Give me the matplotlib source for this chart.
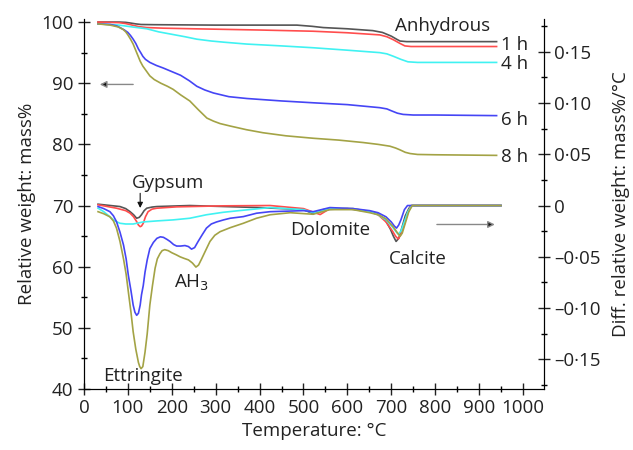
import matplotlib
matplotlib.use("Agg")
import matplotlib.pyplot as plt
from matplotlib.ticker import MultipleLocator, FixedLocator

plt.rcParams['font.family'] = ['Open Sans', 'DejaVu Sans']

# ---------------- data ----------------
# TG curves (left axis, mass %)
tg_anh_T = [32, 80, 95, 105, 118, 130, 160, 200, 300, 400, 485, 520, 545, 600, 658, 680, 700, 712, 720, 735, 760, 850, 940]
tg_anh_v = [100.0, 100.0, 99.95, 99.85, 99.7, 99.6, 99.57, 99.55, 99.5, 99.5, 99.5, 99.3, 99.1, 98.9, 98.6, 98.3, 97.7, 97.2, 96.9, 96.8, 96.8, 96.8, 96.8]
tg_1h_T = [32, 80, 95, 110, 125, 143, 180, 250, 400, 522, 600, 674, 690, 705, 720, 731, 745, 800, 940]
tg_1h_v = [100.0, 99.9, 99.75, 99.5, 99.25, 99.1, 99.0, 98.9, 98.7, 98.5, 98.25, 97.9, 97.6, 97.1, 96.5, 96.1, 96.0, 96.0, 96.0]
tg_4h_T = [32, 60, 80, 110, 143, 170, 200, 230, 257, 290, 320, 371, 450, 522, 600, 674, 690, 705, 722, 738, 760, 800, 940]
tg_4h_v = [99.7, 99.6, 99.5, 99.2, 98.9, 98.4, 98.0, 97.6, 97.2, 96.9, 96.7, 96.4, 96.1, 95.8, 95.4, 95.0, 94.8, 94.4, 93.9, 93.5, 93.4, 93.4, 93.4]
tg_6h_T = [32, 60, 75, 82, 92, 100, 106, 112, 118, 124, 130, 134, 140, 150, 165, 180, 200, 220, 240, 257, 275, 295, 330, 371, 450, 522, 600, 674, 690, 700, 714, 727, 750, 800, 940]
tg_6h_v = [99.7, 99.6, 99.35, 99.1, 98.7, 98.3, 97.8, 97.2, 96.5, 95.6, 94.9, 94.4, 93.9, 93.4, 92.9, 92.5, 91.9, 91.3, 90.4, 89.5, 88.9, 88.4, 87.8, 87.5, 87.1, 86.8, 86.5, 86.0, 85.8, 85.5, 85.1, 84.9, 84.8, 84.8, 84.7]
tg_8h_T = [32, 60, 78, 89, 95, 100, 106, 112, 116, 120, 124, 128, 134, 140, 150, 160, 175, 190, 203, 220, 241, 260, 280, 295, 310, 333, 370, 408, 460, 522, 580, 636, 670, 697, 710, 720, 732, 743, 760, 800, 940]
tg_8h_v = [99.7, 99.5, 99.2, 98.8, 98.4, 97.9, 97.2, 96.4, 95.7, 95.0, 94.3, 93.6, 92.8, 92.2, 91.2, 90.6, 90.0, 89.5, 89.0, 88.1, 87.1, 85.7, 84.3, 83.8, 83.4, 83.0, 82.4, 81.9, 81.4, 81.0, 80.7, 80.3, 80.0, 79.7, 79.4, 79.1, 78.7, 78.5, 78.35, 78.3, 78.2]

# DTG curves (right axis, mass %/°C)
dtg_anh_T = [32, 82, 95, 105, 113, 120, 126, 131, 137, 143, 155, 166, 241, 400, 500, 522, 545, 600, 650, 668, 685, 698, 705, 711, 717, 722, 732, 740, 745, 800, 900, 950]
dtg_anh_v = [0.0013, -0.001, -0.003, -0.006, -0.009, -0.0124, -0.0115, -0.009, -0.005, -0.0026, -0.0015, -0.001, 0.0, -0.002, -0.004, -0.008, -0.004, -0.003, -0.006, -0.008, -0.013, -0.023, -0.030, -0.035, -0.032, -0.025, -0.010, -0.003, 0.0, 0.0, 0.0, 0.0]
dtg_1h_T = [32, 74, 95, 105, 113, 120, 124, 128, 131, 135, 140, 146, 155, 166, 211, 317, 424, 500, 538, 560, 613, 651, 670, 688, 703, 710, 716, 721, 727, 737, 743, 747, 800, 950]
dtg_1h_v = [0.0007, -0.0026, -0.005, -0.0075, -0.011, -0.0157, -0.019, -0.0206, -0.0200, -0.0173, -0.011, -0.006, -0.0035, -0.0026, -0.0013, -0.0003, 0.0, -0.003, -0.0088, -0.003, -0.003, -0.006, -0.009, -0.016, -0.025, -0.030, -0.0326, -0.029, -0.022, -0.008, -0.002, 0.0, 0.0, 0.0]
dtg_4h_T = [32, 45, 59, 70, 82, 95, 112, 135, 166, 203, 241, 279, 317, 355, 424, 500, 522, 560, 613, 651, 670, 688, 703, 710, 716, 722, 728, 738, 747, 800, 950]
dtg_4h_v = [-0.0026, -0.006, -0.011, -0.015, -0.0173, -0.018, -0.018, -0.016, -0.015, -0.014, -0.0124, -0.009, -0.0066, -0.0049, -0.002, -0.004, -0.007, -0.003, -0.003, -0.006, -0.009, -0.014, -0.021, -0.025, -0.028, -0.025, -0.018, -0.006, 0.0, 0.0, 0.0]
dtg_6h_T = [32, 45, 59, 67, 74, 82, 90, 96, 101, 107, 112, 116, 120, 124, 128, 131, 135, 139, 144, 150, 158, 166, 174, 181, 189, 196, 204, 211, 220, 230, 238, 245, 252, 260, 270, 279, 290, 302, 318, 333, 363, 393, 424, 500, 522, 560, 613, 651, 670, 688, 700, 707, 712, 717, 722, 730, 737, 800, 950]
dtg_6h_v = [-0.001, -0.003, -0.006, -0.010, -0.0157, -0.026, -0.0385, -0.052, -0.068, -0.083, -0.097, -0.104, -0.107, -0.105, -0.097, -0.087, -0.078, -0.065, -0.053, -0.042, -0.036, -0.032, -0.0305, -0.031, -0.033, -0.035, -0.038, -0.0395, -0.0395, -0.039, -0.040, -0.0425, -0.041, -0.035, -0.028, -0.022, -0.018, -0.016, -0.014, -0.0124, -0.0108, -0.0075, -0.006, -0.005, -0.006, -0.002, -0.003, -0.005, -0.007, -0.011, -0.016, -0.020, -0.022, -0.019, -0.014, -0.004, 0.0, 0.0, 0.0]
dtg_8h_T = [32, 45, 59, 67, 74, 82, 90, 96, 101, 107, 112, 118, 124, 127, 130, 134, 139, 144, 150, 156, 162, 167, 173, 178, 184, 192, 200, 210, 219, 228, 238, 247, 255, 261, 268, 278, 287, 298, 310, 333, 363, 393, 424, 470, 522, 560, 613, 651, 670, 688, 705, 713, 720, 725, 730, 740, 748, 800, 950]
dtg_8h_v = [-0.006, -0.008, -0.011, -0.015, -0.022, -0.035, -0.052, -0.067, -0.084, -0.104, -0.123, -0.140, -0.153, -0.157, -0.159, -0.157, -0.143, -0.125, -0.097, -0.078, -0.061, -0.052, -0.047, -0.044, -0.043, -0.044, -0.046, -0.048, -0.050, -0.0515, -0.053, -0.056, -0.060, -0.058, -0.052, -0.043, -0.035, -0.029, -0.0255, -0.0216, -0.0173, -0.0124, -0.009, -0.007, -0.0085, -0.004, -0.004, -0.007, -0.009, -0.013, -0.021, -0.026, -0.030, -0.027, -0.020, -0.006, 0.0, 0.0, 0.0]

series_names = ['Anhydrous', '1 h', '4 h', '6 h', '8 h']
series_colors = ['#555555', '#ff4d4d', '#40f2f2', '#4545f5', '#a3a345']

x_ticks = [0, 100, 200, 300, 400, 500, 600, 700, 800, 900, 1000]
left_ticks = [40, 50, 60, 70, 80, 90, 100]
right_ticks = [-0.15, -0.10, -0.05, 0.0, 0.05, 0.10, 0.15]
right_tick_labels = ['\u20130\u00b715', '\u20130\u00b710', '\u20130\u00b705', '0', '0\u00b705', '0\u00b710', '0\u00b715']

# ---------------- figure ----------------
fig = plt.figure(figsize=(6.33, 4.5), dpi=100)
ax = fig.add_axes([84/633, 61/450, (544-84)/633, (431-61)/450])
ax2 = ax.twinx()

tg = [(tg_anh_T, tg_anh_v), (tg_1h_T, tg_1h_v), (tg_4h_T, tg_4h_v), (tg_6h_T, tg_6h_v), (tg_8h_T, tg_8h_v)]
dtg = [(dtg_anh_T, dtg_anh_v), (dtg_1h_T, dtg_1h_v), (dtg_4h_T, dtg_4h_v), (dtg_6h_T, dtg_6h_v), (dtg_8h_T, dtg_8h_v)]

for (T, v), c in zip(tg, series_colors):
    ax.plot(T, v, color=c, lw=1.2, solid_joinstyle='round')
for (T, v), c in zip(dtg, series_colors):
    ax2.plot(T, v, color=c, lw=1.2, solid_joinstyle='round')

ax.set_xlim(0, 1048)
ax.set_ylim(40, 100.5)
k = 0.05 / 51 * 6.08
ax2.set_ylim((40 - 70) * k, (100.5 - 70) * k)

txt = '#222222'
fs = 13.5

ax.xaxis.set_major_locator(FixedLocator(x_ticks))
ax.xaxis.set_minor_locator(MultipleLocator(50))
ax.yaxis.set_major_locator(FixedLocator(left_ticks))
ax.yaxis.set_minor_locator(MultipleLocator(5))
ax2.yaxis.set_major_locator(FixedLocator(right_ticks))
ax2.set_yticklabels(right_tick_labels)
ax2.yaxis.set_minor_locator(MultipleLocator(0.025))

for a in (ax, ax2):
    a.spines['top'].set_visible(False)
    a.tick_params(which='major', direction='inout', length=8, width=1, labelsize=fs, colors=txt)
    a.tick_params(which='minor', direction='inout', length=4, width=1)
ax.tick_params(axis='x', which='major', pad=3)
ax.set_xticklabels([str(t) for t in x_ticks])

ax.set_xlabel('Temperature: \u00b0C', fontsize=fs, color=txt, labelpad=4)
ax.set_ylabel('Relative weight: mass%', fontsize=fs, color=txt, labelpad=4)
ax2.set_ylabel('Diff. relative weight: mass%/\u00b0C', fontsize=fs, color=txt, labelpad=8)

# series labels
ax.text(818, 99.3, 'Anhydrous', fontsize=fs, color=txt, ha='center', va='center')
ax.text(950, 96.2, '1 h', fontsize=fs, color=txt, ha='left', va='center')
ax.text(950, 93.1, '4 h', fontsize=fs, color=txt, ha='left', va='center')
ax.text(950, 84.0, '6 h', fontsize=fs, color=txt, ha='left', va='center')
ax.text(950, 78.0, '8 h', fontsize=fs, color=txt, ha='left', va='center')

# peak labels
ax.text(191, 73.7, 'Gypsum', fontsize=fs, color=txt, ha='center', va='center')
ax.text(560, 66.0, 'Dolomite', fontsize=fs, color=txt, ha='center', va='center')
ax.text(761, 61.3, 'Calcite', fontsize=fs, color=txt, ha='center', va='center')
ax.text(244, 57.4, 'AH$_3$', fontsize=fs, color=txt, ha='center', va='center')
ax.text(134, 42.1, 'Ettringite', fontsize=fs, color=txt, ha='center', va='center')

# arrows
ax.annotate('', xy=(128, 69.6), xytext=(128, 72.0),
            arrowprops=dict(arrowstyle='-|>', color='#111111', lw=0.8, mutation_scale=8, shrinkA=0, shrinkB=0))
ax.annotate('', xy=(36, 89.8), xytext=(112, 89.8),
            arrowprops=dict(arrowstyle='-|>', ec='#888888', fc='#111111', lw=1.0, mutation_scale=10, shrinkA=0, shrinkB=0))
ax.annotate('', xy=(936, 66.9), xytext=(804, 66.9),
            arrowprops=dict(arrowstyle='-|>', ec='#888888', fc='#111111', lw=1.0, mutation_scale=10, shrinkA=0, shrinkB=0))

fig.savefig('out.png', dpi=100)
